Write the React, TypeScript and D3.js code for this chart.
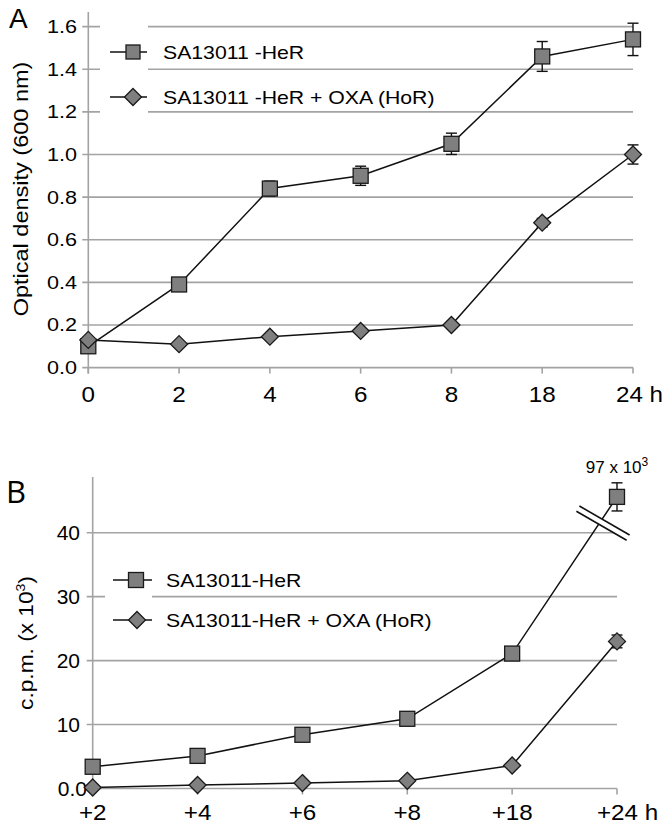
import React from "react";
import * as d3 from "d3";

// panel A data: optical density
const hoursA = ["0", "2", "4", "6", "8", "18", "24"];
const odHeR = [0.1, 0.39, 0.84, 0.9, 1.05, 1.46, 1.54];
const odHeRErr = [0, 0, 0.035, 0.045, 0.05, 0.07, 0.076];
const odOxa = [0.13, 0.11, 0.145, 0.172, 0.2, 0.68, 1.0];
const odOxaErr = [0, 0, 0, 0, 0, 0.02, 0.045];
const yTicksA = [0, 0.2, 0.4, 0.6, 0.8, 1.0, 1.2, 1.4, 1.6];

// panel B data: c.p.m. (x 10^3)
const hoursB = ["+2", "+4", "+6", "+8", "+18", "+24"];
const cpmHeR = [3.4, 5.1, 8.4, 10.9, 21.1, 45.6];
const cpmHeRErr = [0, 0, 0, 0, 0, 2.2];
const cpmOxa = [0.15, 0.55, 0.85, 1.2, 3.6, 23.0];
const cpmOxaErr = [0, 0, 0, 0, 0, 1.0];
const yTicksB = [0, 10, 20, 30, 40];

const legendA = ["SA13011 -HeR", "SA13011 -HeR + OXA (HoR)"];
const legendB = ["SA13011-HeR", "SA13011-HeR + OXA (HoR)"];

const FONT = "'Liberation Sans', Arial, sans-serif";
const GRID = "#a3a3a3";
const FILL = "#7f7f7f";

// text helper, the figure's lettering is a bit wider than Arial
function Txt(props: any) {
  const { x, y, size, anchor = "start", sx = 1, rot = 0, family = FONT, children } = props;
  return (
    <text
      transform={`translate(${x},${y}) rotate(${rot}) scale(${sx},1)`}
      fontSize={size}
      fontFamily={family}
      textAnchor={anchor}
      fill="#000"
    >
      {children}
    </text>
  );
}

function Square({ x, y, s = 15 }: any) {
  return <rect x={x - s / 2} y={y - s / 2} width={s} height={s} fill={FILL} stroke="#1a1a1a" strokeWidth={1.3} />;
}

function Diamond({ x, y, r = 8.5 }: any) {
  const pts = [[x, y - r], [x + r, y], [x, y + r], [x - r, y]].map((p) => p.join(",")).join(" ");
  return <polygon points={pts} fill={FILL} stroke="#1a1a1a" strokeWidth={1.3} />;
}

function Series({ cats, vals, errs, x, y, kind }: any) {
  const line = d3.line<number>().x((_, i) => x(cats[i])).y((d) => y(d));
  return (
    <g>
      <path d={line(vals) || ""} fill="none" stroke="#111" strokeWidth={1.5} />
      {vals.map((v: number, i: number) => {
        if (!errs[i]) return null;
        const cx = x(cats[i]);
        const y1 = y(v + errs[i]);
        const y2 = y(v - errs[i]);
        return (
          <g key={"e" + i} stroke="#111" strokeWidth={1.4}>
            <line x1={cx} x2={cx} y1={y1} y2={y2} />
            <line x1={cx - 5.5} x2={cx + 5.5} y1={y1} y2={y1} />
            <line x1={cx - 5.5} x2={cx + 5.5} y1={y2} y2={y2} />
          </g>
        );
      })}
      {vals.map((v: number, i: number) =>
        kind === "square" ? <Square key={i} x={x(cats[i])} y={y(v)} /> : <Diamond key={i} x={x(cats[i])} y={y(v)} />
      )}
    </g>
  );
}

function PanelA() {
  const x = d3.scalePoint<string>().domain(hoursA).range([88.3, 633]).padding(0);
  const y = d3.scaleLinear().domain([0, 1.6]).range([367.6, 26.6]);
  const left = x(hoursA[0]) as number;
  const right = x(hoursA[hoursA.length - 1]) as number;
  const last = hoursA.length - 1;
  return (
    <g>
      {yTicksA.map((t) => (
        <g key={t}>
          <line x1={left - 6} x2={right} y1={y(t)} y2={y(t)} stroke={GRID} strokeWidth={1.6} />
          <Txt x={77} y={y(t) + 6.5} size={18} anchor="end" sx={1.2}>
            {d3.format(".1f")(t)}
          </Txt>
        </g>
      ))}
      {/* legend background hides part of the grid */}
      <rect x={100} y={18} width={48} height={98} fill="#fff" />
      <line x1={left} x2={left} y1={12} y2={y(0) + 6} stroke={GRID} strokeWidth={1.6} />
      {hoursA.map((h, i) => (
        <g key={h}>
          <line x1={x(h)} x2={x(h)} y1={y(0)} y2={y(0) + 6} stroke={GRID} strokeWidth={1.6} />
          <Txt x={i === last ? (x(h) as number) - 17 : x(h)} y={402} size={22} anchor={i === last ? "start" : "middle"} sx={1.1}>
            {i === last ? h + " h" : h}
          </Txt>
        </g>
      ))}
      <Series cats={hoursA} vals={odHeR} errs={odHeRErr} x={x} y={y} kind="square" />
      <Series cats={hoursA} vals={odOxa} errs={odOxaErr} x={x} y={y} kind="diamond" />

      {/* legend */}
      <line x1={110} x2={147} y1={52} y2={52} stroke="#111" strokeWidth={1.5} />
      <Square x={133} y={52} s={14} />
      <Txt x={163} y={58.5} size={18} sx={1.18}>{legendA[0]}</Txt>
      <line x1={110} x2={147} y1={97} y2={97} stroke="#111" strokeWidth={1.5} />
      <Diamond x={133} y={97} />
      <Txt x={163} y={103.5} size={18} sx={1.18}>{legendA[1]}</Txt>

      <Txt x={28} y={189} size={21} anchor="middle" rot={-90} sx={1.12}>Optical density (600 nm)</Txt>
      <Txt x={9} y={28} size={28}>A</Txt>
    </g>
  );
}

function PanelB() {
  const x = d3.scalePoint<string>().domain(hoursB).range([92.7, 617]).padding(0);
  const y = d3.scaleLinear().domain([0, 40]).range([788.5, 532.7]);
  const left = x(hoursB[0]) as number;
  const right = x(hoursB[hoursB.length - 1]) as number;
  const last = hoursB.length - 1;
  // axis break sits on the last segment, just under the 40 line
  const bx = right - 14;
  const by = y(41.5);
  return (
    <g>
      {yTicksB.map((t) => (
        <g key={t}>
          <line x1={left - 6} x2={right} y1={y(t)} y2={y(t)} stroke={GRID} strokeWidth={1.6} />
          <Txt x={t === 0 ? 87 : 80} y={y(t) + 7} size={20} anchor="end" sx={1.05}>
            {t === 0 ? "0.0" : d3.format("d")(t)}
          </Txt>
        </g>
      ))}
      <rect x={105} y={562} width={47} height={76} fill="#fff" />
      <line x1={left} x2={left} y1={477} y2={y(0) + 6} stroke={GRID} strokeWidth={1.6} />
      {hoursB.map((h, i) => (
        <g key={h}>
          <line x1={x(h)} x2={x(h)} y1={y(0)} y2={y(0) + 6} stroke={GRID} strokeWidth={1.6} />
          <Txt x={i === last ? (x(h) as number) - 20 : x(h)} y={820} size={22} anchor={i === last ? "start" : "middle"} sx={1.1}>
            {i === last ? h + " h" : h}
          </Txt>
        </g>
      ))}
      <Series cats={hoursB} vals={cpmHeR} errs={cpmHeRErr} x={x} y={y} kind="square" />
      <Series cats={hoursB} vals={cpmOxa} errs={cpmOxaErr} x={x} y={y} kind="diamond" />

      {/* break marks */}
      <g transform={`translate(${bx},${by}) rotate(30)`}>
        <rect x={-29} y={-3} width={58} height={6} fill="#fff" />
        <line x1={-29} x2={29} y1={-3} y2={-3} stroke="#111" strokeWidth={1.6} />
        <line x1={-29} x2={29} y1={3} y2={3} stroke="#111" strokeWidth={1.6} />
      </g>
      <Txt x={right} y={473} size={17} anchor="middle">
        97 x 10<tspan dy={-7} fontSize={12}>3</tspan>
      </Txt>

      {/* legend */}
      <line x1={113} x2={152} y1={580} y2={580} stroke="#111" strokeWidth={1.5} />
      <Square x={136} y={580} s={15} />
      <Txt x={166} y={586.5} size={18} sx={1.18}>{legendB[0]}</Txt>
      <line x1={113} x2={152} y1={620} y2={620} stroke="#111" strokeWidth={1.5} />
      <Diamond x={137} y={620} />
      <Txt x={166} y={626.5} size={18} sx={1.18}>{legendB[1]}</Txt>

      <Txt x={33} y={643} size={21} anchor="middle" rot={-90} sx={1.08}>
        c.p.m. (x 10<tspan dy={-8} fontSize={13}>3</tspan><tspan dy={8}>)</tspan>
      </Txt>
      <Txt x={6} y={503} size={31} family="'Open Sans', sans-serif">B</Txt>
    </g>
  );
}

export default function App() {
  return (
    <div style={{ position: "absolute", left: 0, top: 0 }}>
      <svg width={671} height={827} style={{ display: "block", background: "#fff" }}>
        <PanelA />
        <PanelB />
      </svg>
    </div>
  );
}
